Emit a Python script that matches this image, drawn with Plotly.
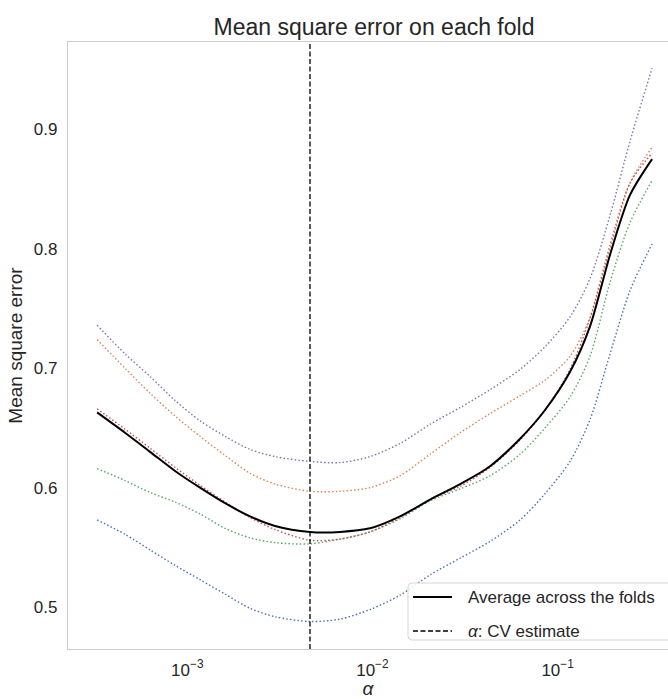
import plotly.graph_objects as go

# ---- data ----
alphas = [3.26e-4, 4.61e-4, 6.30e-4, 8.59e-4, 1.172e-3, 1.600e-3, 2.183e-3, 2.979e-3,
          4.60e-3, 6.68e-3, 9.70e-3, 1.409e-2, 2.046e-2, 2.972e-2, 4.315e-2, 6.27e-2,
          8.55e-2, 0.1167, 0.1496, 0.1919, 0.246, 0.3236]

fold_1 = [0.573, 0.561, 0.548, 0.535, 0.523, 0.511, 0.499, 0.492, 0.488, 0.490, 0.498,
          0.510, 0.527, 0.541, 0.555, 0.573, 0.595, 0.622, 0.657, 0.712, 0.765, 0.804]
fold_2 = [0.724, 0.700, 0.679, 0.660, 0.643, 0.627, 0.612, 0.603, 0.597, 0.597, 0.600,
          0.610, 0.628, 0.646, 0.662, 0.677, 0.690, 0.710, 0.742, 0.800, 0.855, 0.885]
fold_3 = [0.616, 0.606, 0.596, 0.588, 0.578, 0.566, 0.558, 0.554, 0.553, 0.557, 0.563,
          0.574, 0.589, 0.599, 0.610, 0.628, 0.650, 0.676, 0.710, 0.772, 0.822, 0.857]
fold_4 = [0.666, 0.649, 0.633, 0.617, 0.602, 0.588, 0.575, 0.565, 0.556, 0.557, 0.563,
          0.575, 0.590, 0.601, 0.617, 0.640, 0.665, 0.699, 0.742, 0.803, 0.855, 0.880]
fold_5 = [0.736, 0.712, 0.693, 0.673, 0.656, 0.643, 0.632, 0.626, 0.622, 0.621, 0.626,
          0.637, 0.653, 0.667, 0.682, 0.699, 0.718, 0.743, 0.775, 0.828, 0.890, 0.951]
average = [0.663, 0.646, 0.630, 0.614, 0.600, 0.587, 0.576, 0.568, 0.563, 0.563, 0.566,
           0.576, 0.590, 0.603, 0.618, 0.641, 0.665, 0.697, 0.735, 0.795, 0.845, 0.875]

alpha_cv = 0.0046

folds = [fold_1, fold_2, fold_3, fold_4, fold_5]
fold_colors = ["#4C72B0", "#DD8452", "#55A868", "#C44E52", "#8172B3"]

x_tickvals = [1e-3, 1e-2, 1e-1]
x_ticktext = ["10<sup>\u22123</sup>", "10<sup>\u22122</sup>", "10<sup>\u22121</sup>"]
y_tickvals = [0.5, 0.6, 0.7, 0.8, 0.9]
y_ticktext = ["0.5", "0.6", "0.7", "0.8", "0.9"]
legend_labels = ["Average across the folds", "<i>\u03b1</i>: CV estimate"]

FONT = "Liberation Sans, Arial, sans-serif"
TXT = "#262626"

# plot-area geometry (pixels) used to place the legend box in paper units
W, H = 668, 699
ML, MR, MT, MB = 68, 0, 42, 50
PW, PH = W - ML - MR, H - MT - MB


def px(x):
    return (x - ML) / PW


def py(y):
    return (H - MB - y) / PH


fig = go.Figure()
for f, c in zip(folds, fold_colors):
    fig.add_trace(go.Scatter(x=alphas, y=f, mode="lines", showlegend=False,
                             line=dict(color=c, width=1.4, dash="1.5px,2.2px",
                                       shape="spline", smoothing=0.8),
                             hoverinfo="skip"))

fig.add_trace(go.Scatter(x=alphas, y=average, mode="lines", name=legend_labels[0],
                         showlegend=False,
                         line=dict(color="black", width=2, shape="spline", smoothing=0.8)))

fig.add_shape(type="line", xref="x", yref="paper", x0=alpha_cv, x1=alpha_cv, y0=0, y1=1,
              line=dict(color="black", width=1.3, dash="5px,2.5px"))

# ---- legend (matplotlib-like frame, cropped at the right edge) ----
bx0, bx1, by0, by1, r = px(408), px(690), py(583), py(640), 4
rx, ry = r / PW, r / PH
path = (f"M {bx0+rx},{by0} L {bx1},{by0} L {bx1},{by1} L {bx0+rx},{by1} "
        f"Q {bx0},{by1} {bx0},{by1+ry} L {bx0},{by0-ry} Q {bx0},{by0} {bx0+rx},{by0} Z")
fig.add_shape(type="path", xref="paper", yref="paper", path=path,
              fillcolor="rgba(255,255,255,0.85)", line=dict(color="#d5d5d5", width=1))
rows = [597, 631]
styles = [dict(color="black", width=2), dict(color="black", width=1.3, dash="5px,2.5px")]
for yy, st, lab in zip(rows, styles, legend_labels):
    fig.add_shape(type="line", xref="paper", yref="paper", x0=px(413), x1=px(452),
                  y0=py(yy), y1=py(yy), line=st)
    fig.add_annotation(text=lab, xref="paper", yref="paper", x=px(466), y=py(yy),
                       xanchor="left", yanchor="middle", showarrow=False,
                       font=dict(size=17, color=TXT, family=FONT))

fig.update_layout(
    width=W, height=H,
    margin=dict(l=ML, r=MR, t=MT, b=MB),
    paper_bgcolor="white", plot_bgcolor="white",
    font=dict(family=FONT, color=TXT, size=17),
    title=dict(text="Mean square error on each fold", x=0.51, xref="paper", xanchor="center",
               y=1, yref="paper", yanchor="bottom", pad=dict(b=7),
               font=dict(size=23, color=TXT, family=FONT)),
    showlegend=False,
)

fig.update_xaxes(type="log", range=[-3.644, -0.404],
                 tickvals=x_tickvals, ticktext=x_ticktext,
                 showgrid=False, zeroline=False,
                 showline=True, linecolor="#cccccc", linewidth=1.25, mirror=True,
                 ticks="outside", ticklen=5, tickcolor="rgba(0,0,0,0)",
                 tickfont=dict(size=17, color=TXT, family=FONT),
                 title=dict(text="<i>\u03b1</i>", standoff=2,
                            font=dict(size=19, color=TXT, family=FONT)))
fig.update_yaxes(range=[0.465, 0.973],
                 tickvals=y_tickvals, ticktext=y_ticktext,
                 showgrid=False, zeroline=False,
                 showline=True, linecolor="#cccccc", linewidth=1.25,
                 ticks="outside", ticklen=6, tickcolor="rgba(0,0,0,0)",
                 tickfont=dict(size=17, color=TXT, family=FONT),
                 title=dict(text="Mean square error", standoff=6,
                            font=dict(size=19, color=TXT, family=FONT)))

fig.write_html("out.html")
